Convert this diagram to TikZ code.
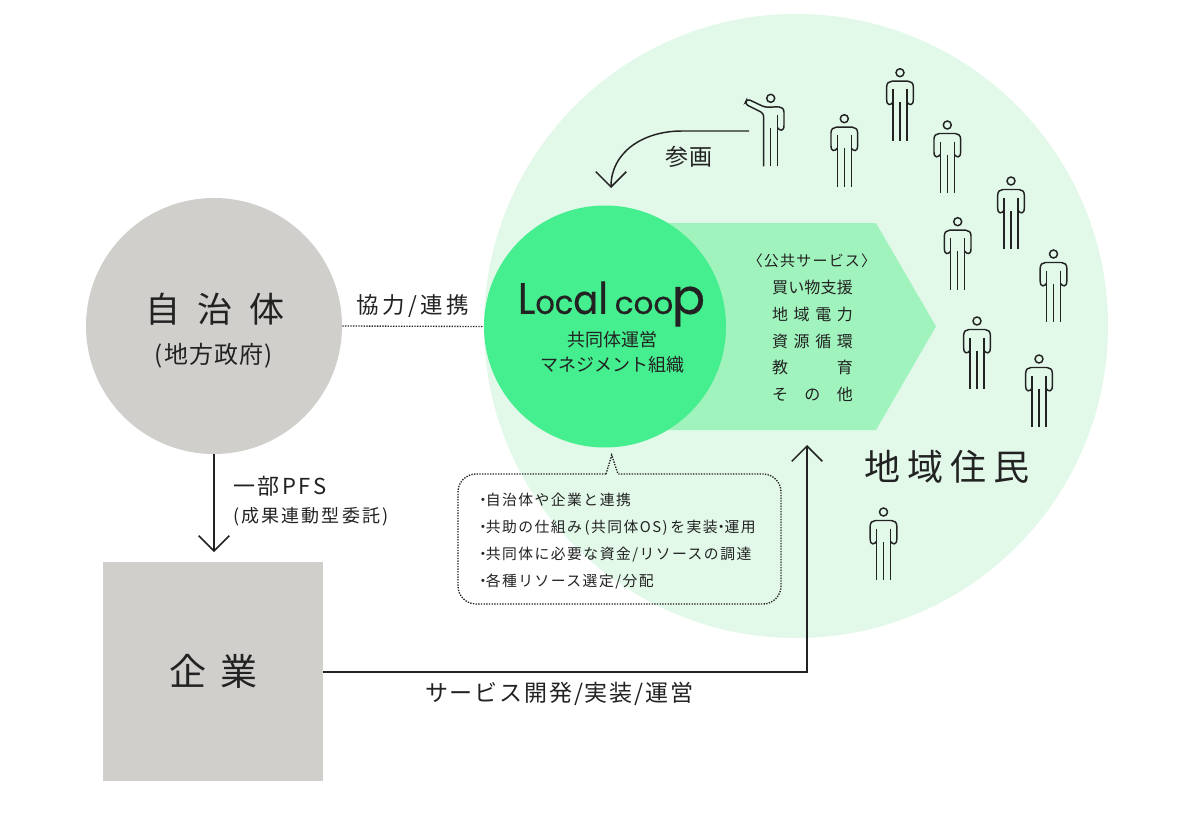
\documentclass[tikz,border=0pt]{standalone}
\usepackage{fontspec}
\usetikzlibrary{arrows.meta}
\setmainfont{Noto Sans CJK JP}
\newfontfamily\logofont[FakeBold=0.35]{Poppins}
\newcommand{\fs}[1]{\fontsize{\dimexpr #1pt*3/4\relax}{\dimexpr #1pt*9/10\relax}\selectfont}
\newcommand{\trk}[1]{\addfontfeature{LetterSpace=#1}}
\definecolor{pale}{HTML}{E2F9EA}
\definecolor{vivid}{HTML}{45EE8E}
\definecolor{mint}{HTML}{A0F3BC}
\definecolor{stone}{HTML}{D0CFCB}
\definecolor{ink}{HTML}{222222}
\tikzset{
  lbl/.style={inner sep=0pt,outer sep=0pt,text=ink,anchor=center},
  lblw/.style={inner sep=0pt,outer sep=0pt,text=ink,anchor=west},
  conn/.style={draw=ink,line width=1.1pt},
  tip/.style={-{Straight Barb[length=11.5pt,width=23pt,line width=1.1pt]}},
  person/.pic={
    \draw[conn] (0,0) circle (4);
    \draw[conn] (-7,29.5) .. controls (-9,32.5) and (-13.3,33.5) .. (-13.3,27) -- (-13.3,14) .. controls (-13.3,10.5) and (-11,8.5) .. (-8,8.5) -- (8,8.5) .. controls (11,8.5) and (13.3,10.5) .. (13.3,14) -- (13.3,27) .. controls (13.3,33.5) and (9,32.5) .. (7,29.5);
    \draw[conn] (-7,16.5) -- (-7,68) (7,16.5) -- (7,68) (0,29.5) -- (0,68);
  },
  pointer/.pic={
    \draw[conn] (0,0) circle (4);
    \draw[conn,rounded corners=2.5pt] (-7,68) -- (-7,15) -- (-26,5.5) -- (-23.5,0.5) -- (-5.7,9) -- (8,8.5);
    \draw[conn] (8,8.5) .. controls (11,8.5) and (13.3,10.5) .. (13.3,14) -- (13.3,27) .. controls (13.3,33.5) and (9,32.5) .. (7,29.5);
    \draw[conn] (7,16.5) -- (7,68) (0,29.5) -- (0,68);
  },
}
\begin{document}
\begin{tikzpicture}[x=0.75pt,y=-0.75pt]
\useasboundingbox (0,0) rectangle (1200,814);
\fill[white] (0,0) rectangle (1200,814);
% areas
\fill[pale] (796,326) circle (312);
\fill[mint] (650,223) -- (876,223) -- (936,326.5) -- (876,430) -- (650,430) -- cycle;
\node[circle,fill=vivid,minimum size=181.5pt,inner sep=0pt] (coop) at (605,326.5) {};
\node[circle,fill=stone,minimum size=192pt,inner sep=0pt] (gov) at (214,326) {};
\node[fill=stone,minimum width=165pt,minimum height=164.5pt,inner sep=0pt] (corp) at (213,671.5) {};
% connectors
\draw[draw=ink,line width=1pt,densely dotted] (gov.east) -- (coop.west);
\coordinate (corpin) at (214,552);
\draw[conn,tip] (gov.south) -- (corpin);
\coordinate (pointfrom) at (749,131);
\coordinate (coopin) at (611,188);
\draw[conn,tip] (pointfrom) -- (682,131) .. controls (642,131) and (611,153) .. (coopin);
\coordinate (svcin) at (807,445);
\draw[conn,tip] (corp.east |- 0,672) -- (807,672) -- (svcin);
% people
\pic at (770.7,98.3) {pointer};
\foreach \px/\py in {844.3/118.7,900/72.7,947.3/125,957.7/221.7,1011/181,1053.5/254,977/321,1039/359,883.5/512}
  \pic at (\px,\py) {person};
% callout
\draw[draw=ink,line width=1pt,densely dotted,rounded corners=13.5pt] (606,474) -- (458,474) -- (458,604) -- (781,604) -- (781,474) -- (618,474);
\draw[draw=ink,line width=1pt,densely dotted] (606,474) -- (611.7,455) -- (618,474);
% texts
\node[lbl] (govname) at (215,309) {\fs{35}\trk{48}自治体};
\node[lbl] (govsub) at (214,355.5) {\fs{24}\trk{5}(地方政府)};
\node[lbl] (link) at (413,306) {\fs{22.5}\trk{15}協力/連携};
\node[lbl] (join) at (689,157) {\fs{23}\trk{8}参画};
\node[lbl] (resid) at (947,467) {\fs{36}\trk{20}地域住民};
\node[lblw] (pfs) at (233,486) {\fs{22}\trk{12}一部PFS};
\node[lblw] (pfssub) at (233,517) {\fs{18}\trk{12}(成果連動型委託)};
\node[lbl] (corpname) at (214,671) {\fs{37}\trk{38}企業};
\node[lblw] (svc) at (425,694) {\fs{23}\trk{8}サービス開発/実装/運営};
\node[lbl] (logo) at (611.5,304) {\logofont\scalebox{0.92}[1]{{\fs{44}L}{\fs{33}oc}{\fs{40}a}{\fs{44}l}}\kern 5pt{\fs{31}coo}\kern-1pt{\fs{49}p}};
\node[lbl] (roleA) at (612,340) {\fs{18}共同体運営};
\node[lbl] (roleB) at (612,365) {\fs{18}マネジメント組織};
\node[lbl] (pubh) at (812,261) {\fs{15}\trk{8}\kern-4pt〈公共サービス〉\kern-4pt};
\node[lbl] (pubA) at (812.5,287) {\fs{16}\makebox[60.5pt][s]{買\hfil い\hfil 物\hfil 支\hfil 援}};
\node[lbl] (pubB) at (812.5,314) {\fs{16}\makebox[60.5pt][s]{地\hfil 域\hfil 電\hfil 力}};
\node[lbl] (pubC) at (812.5,341) {\fs{16}\makebox[60.5pt][s]{資\hfil 源\hfil 循\hfil 環}};
\node[lbl] (pubD) at (812.5,367) {\fs{16}\makebox[60.5pt][s]{教\hfil 育}};
\node[lbl] (pubE) at (812.5,394) {\fs{16}\makebox[60.5pt][s]{そ\hfil の\hfil 他}};
\node[lblw] (itemA) at (477,500) {\fs{14.8}\trk{10}\kern-1pt・\kern-3.5pt 自治体や企業と連携};
\node[lblw] (itemB) at (477,528) {\fs{14.8}\trk{10}\kern-1pt・\kern-3.5pt 共助の仕組み\kern 2pt(共同体OS)\kern 2pt を実装\kern-3pt・\kern-3pt 運用};
\node[lblw] (itemC) at (477,555) {\fs{14.8}\trk{10}\kern-1pt・\kern-3.5pt 共同体に必要な資金/リソースの調達};
\node[lblw] (itemD) at (477,582) {\fs{14.8}\trk{10}\kern-1pt・\kern-3.5pt 各種リソース選定/分配};
\end{tikzpicture}
\end{document}
